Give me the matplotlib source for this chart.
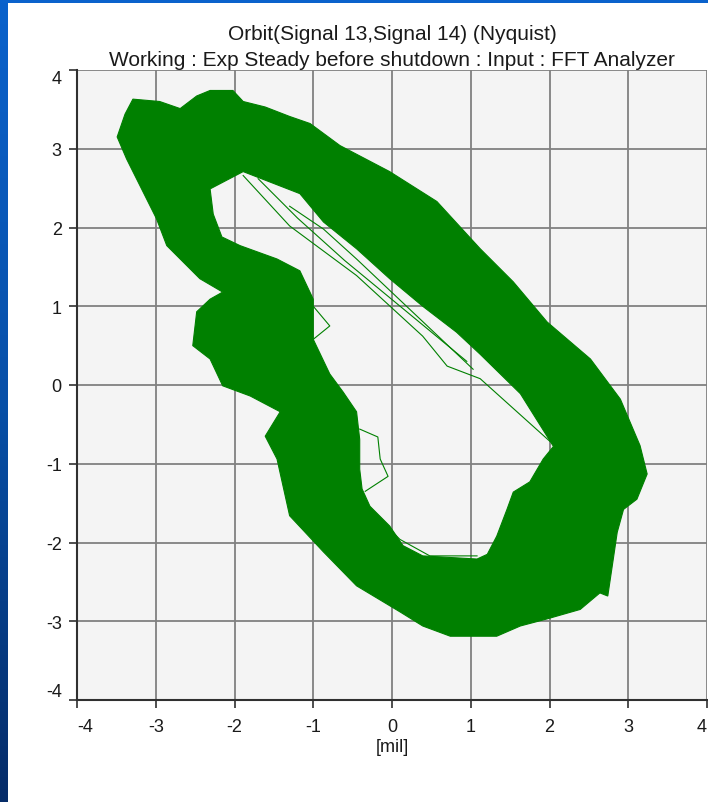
import numpy as np
import matplotlib
matplotlib.use("Agg")
import matplotlib.pyplot as plt
from matplotlib.path import Path
from matplotlib.patches import PathPatch
from matplotlib.colors import LinearSegmentedColormap

plt.rcParams['font.family'] = ['Liberation Sans', 'DejaVu Sans']

# ---------------- data ----------------
title_line1 = "Orbit(Signal 13,Signal 14) (Nyquist)"
title_line2 = "Working : Exp Steady before shutdown : Input : FFT Analyzer"
x_label = "[mil]"
tick_values = [-4, -3, -2, -1, 0, 1, 2, 3, 4]
tick_labels = ["-4", "-3", "-2", "-1", "0", "1", "2", "3", "4"]

# outer envelope of the orbit band (mil)
outer_x = [-3.49, -3.39, -3.29, -2.95, -2.69, -2.48, -2.31, -2.02, -1.89, -1.61,
           -1.30, -1.04, -0.66, -0.03, 0.57, 1.12, 1.54, 1.97, 2.52, 2.90,
           3.15, 3.24, 3.11, 2.94, 2.86, 2.81, 2.74, 2.64, 2.39, 1.97,
           1.63, 1.33, 0.74, 0.39, 0.10, -0.45, -0.87, -1.30, -1.46, -1.61,
           -1.42, -1.80, -2.15, -2.31, -2.53, -2.48, -2.31, -2.15, -2.44, -2.65,
           -2.86, -2.99, -3.20, -3.37]
outer_y = [3.15, 3.44, 3.63, 3.60, 3.51, 3.67, 3.74, 3.74, 3.60, 3.53,
           3.41, 3.32, 3.04, 2.71, 2.33, 1.73, 1.31, 0.80, 0.33, -0.18,
           -0.77, -1.13, -1.45, -1.58, -1.87, -2.21, -2.68, -2.64, -2.85, -2.97,
           -3.06, -3.19, -3.19, -3.06, -2.88, -2.55, -2.12, -1.66, -0.94, -0.65,
           -0.34, -0.14, -0.01, 0.33, 0.50, 0.93, 1.09, 1.18, 1.35, 1.56,
           1.77, 2.11, 2.53, 2.87]

# inner envelope (the hole of the orbit band)
inner_x = [-2.31, -1.89, -1.17, -0.87, -0.45, -0.03, 0.39, 0.82, 1.12, 1.63,
           2.05, 1.92, 1.75, 1.54, 1.46, 1.33, 1.21, 1.08, 0.39, 0.14,
           -0.03, -0.28, -0.38, -0.41, -0.41, -0.45, -0.62, -0.79, -1.00, -1.00,
           -1.17, -1.46, -1.93, -2.16, -2.27]
inner_y = [2.49, 2.71, 2.43, 2.07, 1.73, 1.35, 1.00, 0.67, 0.39, -0.11,
           -0.78, -0.94, -1.23, -1.36, -1.58, -1.92, -2.15, -2.21, -2.17, -2.04,
           -1.79, -1.54, -1.32, -1.07, -0.69, -0.34, -0.09, 0.14, 0.58, 1.09,
           1.45, 1.60, 1.77, 1.88, 2.17]

# individual stray orbit traces
trace_a_x = [-1.89, -1.30, -0.45, 0.39, 0.70, 1.12, 2.01]
trace_a_y = [2.66, 2.02, 1.39, 0.62, 0.24, 0.08, -0.72]
trace_b_x = [-1.30, -0.87, -0.45, 1.03]
trace_b_y = [2.27, 1.98, 1.60, 0.20]
trace_c_x = [-0.41, -0.18, -0.15, -0.05, -0.34]
trace_c_y = [-0.56, -0.66, -0.94, -1.16, -1.35]
trace_d_x = [-1.00, -0.79, -1.00]
trace_d_y = [1.00, 0.75, 0.58]
trace_e_x = [-0.32, 0.10, 0.48, 1.08]
trace_e_y = [-1.54, -1.96, -2.17, -2.17]
trace_f_x = [-1.70, -1.20, -0.60, 0.20, 0.95]
trace_f_y = [2.62, 2.12, 1.58, 0.92, 0.30]

GREEN = "#008000"

# ---------------- figure ----------------
W, H = 708, 803
fig = plt.figure(figsize=(W / 100, H / 100), dpi=100, facecolor="white")

# slide background strips (left and top)
cmap = LinearSegmentedColormap.from_list("slide", ["#0A62CC", "#0850A8", "#062C68"])
bl = fig.add_axes([0, 0, 8 / W, 1])
bl.imshow(np.linspace(0, 1, 256).reshape(-1, 1), aspect="auto", cmap=cmap,
          extent=[0, 1, 0, 1], origin="upper")
bl.axis("off")
bt = fig.add_axes([0, 1 - 4 / H, 1, 4 / H])
bt.set_facecolor("#0A62CC")
bt.set_xticks([]); bt.set_yticks([])
for s in bt.spines.values():
    s.set_visible(False)

ax = fig.add_axes([77 / W, 102 / H, 630 / W, 630 / H])
ax.set_facecolor("#F4F4F4")
ax.set_xlim(-4, 4)
ax.set_ylim(-4, 4)
ax.set_xticks(tick_values, tick_labels)
ax.set_yticks(tick_values, tick_labels)
ax.grid(True, color="#808080", lw=1.3)
ax.set_axisbelow(True)
for side in ("top", "right"):
    ax.spines[side].set_visible(False)
for side in ("left", "bottom"):
    ax.spines[side].set_color("#303030")
    ax.spines[side].set_linewidth(1.5)
    ax.spines[side].set_zorder(5)
ax.tick_params(direction="out", length=6, width=1.2, color="#303030",
               labelsize=13, labelcolor="#1a1a1a")
ax.tick_params(axis="x", pad=7)
ax.tick_params(axis="y", pad=5)
xl = ax.get_xticklabels()
xl[0].set_ha("left")
xl[-1].set_ha("right")
yl = ax.get_yticklabels()
yl[0].set_va("bottom")
yl[-1].set_va("top")

# orbit band as a ring (outer envelope with inner hole)
ov = list(zip(outer_x, outer_y))
iv = list(zip(inner_x, inner_y))[::-1]
verts = ov + [ov[0]] + iv + [iv[0]]
codes = ([Path.MOVETO] + [Path.LINETO] * (len(ov) - 1) + [Path.CLOSEPOLY] +
         [Path.MOVETO] + [Path.LINETO] * (len(iv) - 1) + [Path.CLOSEPOLY])
ax.add_patch(PathPatch(Path(verts, codes), facecolor=GREEN, edgecolor=GREEN,
                       lw=0.8, zorder=3))

for tx, ty in [(trace_a_x, trace_a_y), (trace_b_x, trace_b_y),
               (trace_c_x, trace_c_y), (trace_d_x, trace_d_y),
               (trace_e_x, trace_e_y), (trace_f_x, trace_f_y)]:
    ax.plot(tx, ty, color=GREEN, lw=0.8, zorder=3)

fig.text(392 / W, 1 - 35 / H, title_line1, ha="center", va="center",
         fontsize=15, color="#1a1a1a")
fig.text(392 / W, 1 - 60 / H, title_line2, ha="center", va="center",
         fontsize=15, color="#1a1a1a")
fig.text(392 / W, 1 - 748 / H, x_label, ha="center", va="center",
         fontsize=13, color="#1a1a1a")

fig.savefig("out.png", dpi=100, facecolor="white")
